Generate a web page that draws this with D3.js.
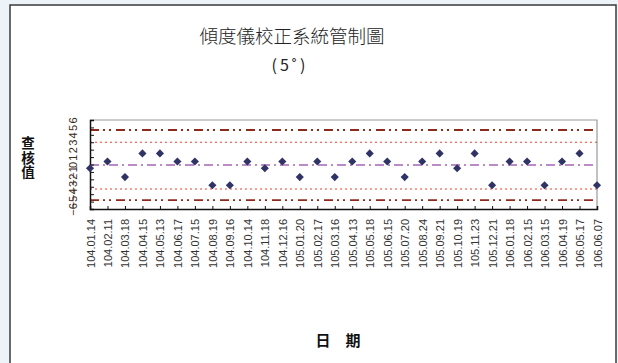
<!DOCTYPE html>
<html>
<head>
<meta charset="utf-8">
<script src="https://cdn.jsdelivr.net/npm/d3@7"></script>
<style>
  html, body { margin: 0; padding: 0; background: #edf4f9; }
  svg { display: block; }
</style>
</head>
<body>
<svg id="chart" width="618" height="363"></svg>
<script>
// Inspection dates (ROC calendar) and check readings
const dates = [
  "104.01.14","104.02.11","104.03.18","104.04.15","104.05.13","104.06.17","104.07.15",
  "104.08.19","104.09.16","104.10.14","104.11.18","104.12.16","105.01.20","105.02.17",
  "105.03.16","105.04.13","105.05.18","105.06.15","105.07.20","105.08.24","105.09.21",
  "105.10.19","105.11.23","105.12.21","106.01.18","106.02.15","106.03.15","106.04.19",
  "106.05.17","106.06.07"
];
const values = [
  -0.5, 0.4, -1.7, 1.5, 1.5, 0.4, 0.4,
  -2.8, -2.8, 0.4, -0.5, 0.4, -1.7, 0.4,
  -1.7, 0.4, 1.5, 0.4, -1.7, 0.4, 1.5,
  -0.5, 1.5, -2.8, 0.4, 0.4, -2.8, 0.4,
  1.5, -2.8
];
// Control lines: centre line, ±2σ warning limits, ±3σ action limits
const centerLine = [-0.07];
const warnLimits = [3.0, -3.3];
const actionLimits = [4.65, -4.8];
const yTicks = [6, 5, 4, 3, 2, 1, 0, -1, -2, -3, -4, -5, -6];

const titleText = "傾度儀校正系統管制圖";
const subtitleText = "(5˚)";
const yTitle = "查核值";
const xTitle = "日　期";

const svg = d3.select("#chart");

// Page panel with border
svg.append("rect")
  .attr("x", 10).attr("y", 5).attr("width", 606).attr("height", 370)
  .attr("fill", "#ffffff").attr("stroke", "#3a3a3a").attr("stroke-width", 1.5);

const plot = { left: 90, right: 597, top: 120, bottom: 209 };

const x = d3.scalePoint().domain(dates).range([plot.left, plot.right]);
const y = d3.scaleLinear().domain([-6, 6]).range([plot.bottom, plot.top]);

// Plot frame (top/right in grey)
svg.append("path")
  .attr("d", `M${plot.left},${plot.top}H${plot.right}V${plot.bottom}`)
  .attr("fill", "none").attr("stroke", "#9a9a9a").attr("stroke-width", 1.2);

// Control lines
const ctrl = svg.append("g");
ctrl.selectAll("line.action").data(actionLimits).join("line")
  .attr("x1", plot.left).attr("x2", plot.right)
  .attr("y1", d => y(d)).attr("y2", d => y(d))
  .attr("stroke", "#8e2a1c").attr("stroke-width", 1.8)
  .attr("stroke-dasharray", "9,4,2,4,2,5");
ctrl.selectAll("line.warn").data(warnLimits).join("line")
  .attr("x1", plot.left).attr("x2", plot.right)
  .attr("y1", d => y(d)).attr("y2", d => y(d))
  .attr("stroke", "#f0402a").attr("stroke-width", 1.2)
  .attr("stroke-dasharray", "2,3");
ctrl.selectAll("line.center").data(centerLine).join("line")
  .attr("x1", plot.left).attr("x2", plot.right)
  .attr("y1", d => y(d)).attr("y2", d => y(d))
  .attr("stroke", "#a466b4").attr("stroke-width", 1.3)
  .attr("stroke-dasharray", "9,4,2,4");

// Y axis: inward ticks, rotated labels
const yAxis = svg.append("g")
  .attr("transform", `translate(${plot.left},0)`)
  .call(d3.axisLeft(y).tickValues(yTicks).tickSize(-4).tickFormat(d3.format("d")));
yAxis.select(".domain").attr("stroke", "#111").attr("stroke-width", 1.5);
yAxis.selectAll(".tick line").attr("stroke", "#111");
yAxis.selectAll(".tick text")
  .attr("x", null).attr("dy", null)
  .attr("transform", "translate(-13,0) rotate(-90)")
  .attr("text-anchor", "middle")
  .attr("font-family", "Liberation Sans, Arial, sans-serif")
  .attr("font-size", 11).attr("fill", "#3a2a1a");

// X axis: inward ticks, vertical date labels
const xAxis = svg.append("g")
  .attr("transform", `translate(0,${plot.bottom})`)
  .call(d3.axisBottom(x).tickSize(-3).tickPadding(0));
xAxis.select(".domain").attr("stroke", "#111").attr("stroke-width", 1.5);
xAxis.selectAll(".tick line").attr("stroke", "#111");
xAxis.selectAll(".tick text")
  .attr("y", null).attr("dy", null)
  .attr("transform", "translate(4,10) rotate(-90)")
  .attr("text-anchor", "end")
  .attr("font-family", "Liberation Sans, Arial, sans-serif")
  .attr("font-size", 11).attr("fill", "#333");

// Data markers (diamonds)
const diamond = d3.symbol().type(d3.symbolDiamond2).size(42);
svg.append("g").selectAll("path").data(values).join("path")
  .attr("d", diamond)
  .attr("transform", (d, i) => `translate(${x(dates[i])},${y(d)})`)
  .attr("fill", "#2f3366");

// Titles
const cjk = "'Noto Sans CJK TC', 'Noto Sans CJK SC', sans-serif";
svg.append("text")
  .attr("x", 292).attr("y", 43)
  .attr("text-anchor", "middle")
  .attr("font-family", cjk).attr("font-size", 18.5).attr("font-weight", 300)
  .attr("fill", "#222")
  .text(titleText);
svg.append("text")
  .attr("x", 290).attr("y", 71)
  .attr("text-anchor", "middle")
  .attr("font-family", cjk).attr("font-size", 16).attr("letter-spacing", 3)
  .attr("fill", "#222")
  .text(subtitleText);

// Vertical y-axis title, characters upright
svg.append("text")
  .attr("x", 28).attr("y", 158)
  .attr("text-anchor", "middle")
  .style("writing-mode", "vertical-rl")
  .attr("font-family", cjk).attr("font-size", 13.5).attr("font-weight", "bold")
  .attr("letter-spacing", 1)
  .attr("fill", "#111")
  .text(yTitle);

svg.append("text")
  .attr("x", 338).attr("y", 346)
  .attr("text-anchor", "middle")
  .attr("font-family", cjk).attr("font-size", 15).attr("font-weight", "bold")
  .attr("fill", "#111")
  .text(xTitle);
</script>
</body>
</html>
